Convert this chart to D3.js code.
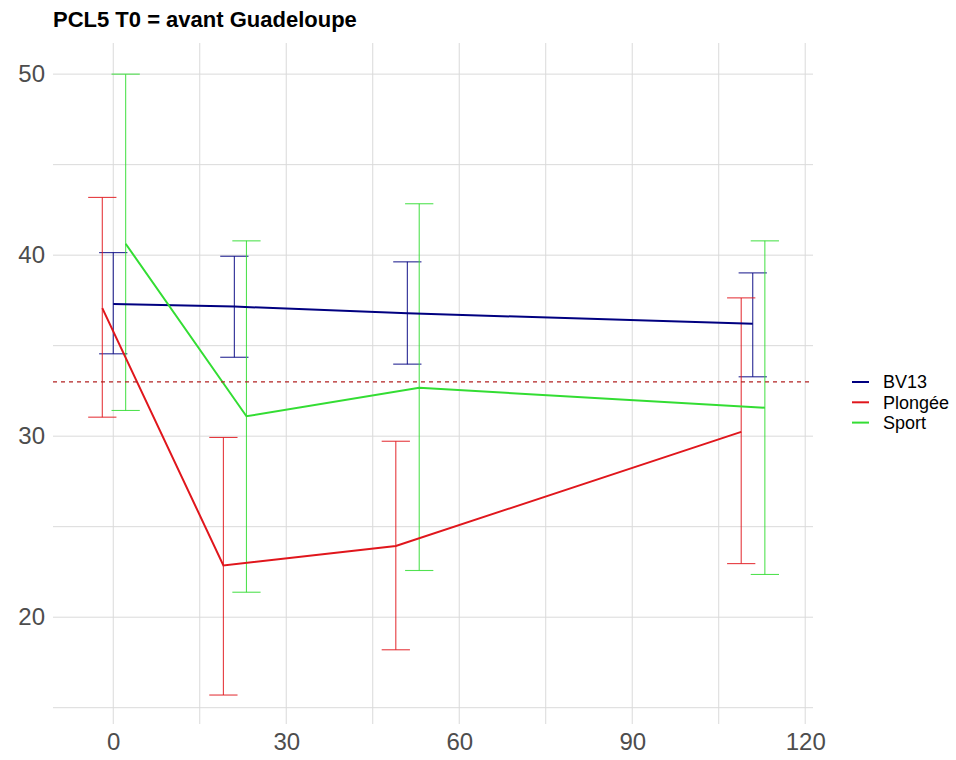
<!DOCTYPE html>
<html>
<head>
<meta charset="utf-8">
<script src="https://cdn.jsdelivr.net/npm/d3@7"></script>
<style>
    body { margin: 0; background: #fff; }
    text { font-family: "Liberation Sans", Arial, sans-serif; }
</style>
</head>
<body>
<div id="chart"></div>
<script>
//Données
const groupes = ['BV13', 'Plongée', 'Sport'];
const couleurs = ['#000080', '#E0161C', '#33DD33'];

const tempsBV13 = [0, 21, 51, 110.9];
const moyBV13 = [37.3, 37.16, 36.79, 36.21];
const basBV13 = [34.55, 34.36, 33.98, 33.28];
const hautBV13 = [40.14, 39.94, 39.63, 39.02];

const tempsPlongee = [-1.9, 19.1, 49.0, 108.9];
const moyPlongee = [37.07, 22.86, 23.93, 30.24];
const basPlongee = [31.05, 15.7, 18.2, 22.96];
const hautPlongee = [43.19, 29.93, 29.72, 37.64];

const tempsSport = [2.15, 23.1, 53.06, 113.0];
const moySport = [40.63, 31.1, 32.67, 31.57];
const basSport = [31.42, 21.38, 22.58, 22.36];
const hautSport = [50, 40.79, 42.84, 40.79];

const seuil = 33;
const xTicks = [0, 30, 60, 90, 120];
const xMinor = [15, 45, 75, 105];
const yTicks = [20, 30, 40, 50];
const yMinor = [15, 25, 35, 45];
const xLimites = [-10.45, 121.35];
const yLimites = [14.1, 51.72];
const demiLargeur = 2.45;

function serie(nom, temps, moy, bas, haut) {
    return temps.map(function(t, i) {
        return { groupe: nom, t: t, moy: moy[i], bas: bas[i], haut: haut[i] };
    });
}

let series = [
    serie('BV13', tempsBV13, moyBV13, basBV13, hautBV13),
    serie('Plongée', tempsPlongee, moyPlongee, basPlongee, hautPlongee),
    serie('Sport', tempsSport, moySport, basSport, hautSport)
];

//Dimensions
let width = 956, height = 760;
let panel = {left: 53, right: 813, top: 43, bottom: 724};

let svg = d3.select('#chart')
    .append('svg')
        .attr('width', width)
        .attr('height', height);

let x = d3.scaleLinear().domain(xLimites).range([panel.left, panel.right]);
let y = d3.scaleLinear().domain(yLimites).range([panel.bottom, panel.top]);
let color = d3.scaleOrdinal().domain(groupes).range(couleurs);

//Grille
let grille = svg.append('g').attr('stroke', '#DADADA').attr('stroke-width', 1);

grille.selectAll('.vx')
    .data(xTicks.concat(xMinor))
    .enter()
    .append('line')
    .attr('x1', function(d) { return x(d); })
    .attr('x2', function(d) { return x(d); })
    .attr('y1', panel.top)
    .attr('y2', panel.bottom);

grille.selectAll('.hy')
    .data(yTicks.concat(yMinor))
    .enter()
    .append('line')
    .attr('y1', function(d) { return y(d); })
    .attr('y2', function(d) { return y(d); })
    .attr('x1', panel.left)
    .attr('x2', panel.right);

//Axes
let xAxis = svg.append('g')
    .attr('transform', 'translate(0,' + panel.bottom + ')')
    .call(d3.axisBottom(x).tickValues(xTicks).tickSize(0).tickPadding(9));
xAxis.select('.domain').remove();
xAxis.selectAll('text')
    .attr('fill', '#4D4D4D')
    .style('font-size', '24px')
    .style('font-family', '"Liberation Sans", Arial, sans-serif');

let yAxis = svg.append('g')
    .attr('transform', 'translate(' + panel.left + ',0)')
    .call(d3.axisLeft(y).tickValues(yTicks).tickSize(0).tickPadding(8));
yAxis.select('.domain').remove();
yAxis.selectAll('text')
    .attr('fill', '#4D4D4D')
    .style('font-size', '24px')
    .style('font-family', '"Liberation Sans", Arial, sans-serif');

//Barres d'erreur
let barres = svg.append('g')
    .selectAll('.groupe')
    .data(series)
    .enter()
    .append('g')
    .attr('stroke', function(d) { return color(d[0].groupe); })
    .attr('stroke-opacity', 0.85)
    .attr('stroke-width', 1.1)
    .selectAll('g')
    .data(function(d) { return d; })
    .enter()
    .append('g');

barres.append('line')
    .attr('x1', function(d) { return x(d.t); })
    .attr('x2', function(d) { return x(d.t); })
    .attr('y1', function(d) { return y(d.bas); })
    .attr('y2', function(d) { return y(d.haut); });

barres.append('line')
    .attr('x1', function(d) { return x(d.t - demiLargeur); })
    .attr('x2', function(d) { return x(d.t + demiLargeur); })
    .attr('y1', function(d) { return y(d.haut); })
    .attr('y2', function(d) { return y(d.haut); });

barres.append('line')
    .attr('x1', function(d) { return x(d.t - demiLargeur); })
    .attr('x2', function(d) { return x(d.t + demiLargeur); })
    .attr('y1', function(d) { return y(d.bas); })
    .attr('y2', function(d) { return y(d.bas); });

//Lignes des moyennes
let ligne = d3.line()
    .x(function(d) { return x(d.t); })
    .y(function(d) { return y(d.moy); });

svg.append('g')
    .selectAll('path')
    .data(series)
    .enter()
    .append('path')
    .attr('d', ligne)
    .attr('fill', 'none')
    .attr('stroke', function(d) { return color(d[0].groupe); })
    .attr('stroke-width', 2);

//Seuil
svg.append('line')
    .attr('x1', panel.left)
    .attr('x2', panel.right)
    .attr('y1', y(seuil))
    .attr('y2', y(seuil))
    .attr('stroke', '#B22222')
    .attr('stroke-width', 1.1)
    .attr('stroke-dasharray', '4,4');

//Titre
svg.append('text')
    .attr('x', panel.left)
    .attr('y', 27)
    .attr('font-weight', 'bold')
    .style('font-size', '22px')
    .attr('fill', '#000')
    .text('PCL5 T0 = avant Guadeloupe');

//Légende
let legende = svg.append('g')
    .selectAll('g')
    .data(groupes)
    .enter()
    .append('g')
    .attr('transform', function(d, i) { return 'translate(852,' + (382 + i * 20.3) + ')'; });

legende.append('line')
    .attr('x1', 0)
    .attr('x2', 17)
    .attr('stroke', function(d) { return color(d); })
    .attr('stroke-width', 2);

legende.append('text')
    .attr('x', 31)
    .attr('dy', '0.36em')
    .style('font-size', '18px')
    .attr('fill', '#000')
    .text(function(d) { return d; });
</script>
</body>
</html>
